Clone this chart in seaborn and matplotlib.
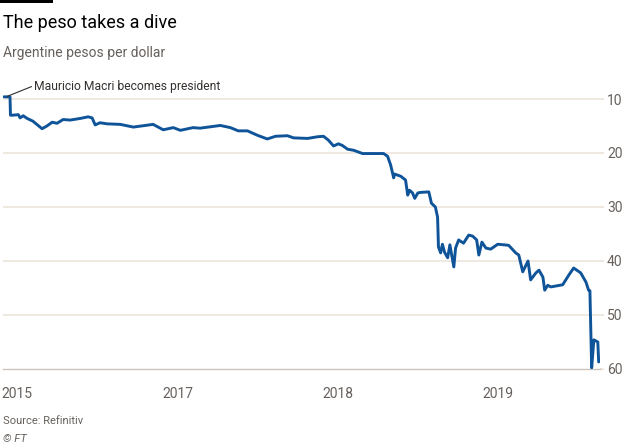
import matplotlib
matplotlib.use("Agg")
import matplotlib.pyplot as plt
import matplotlib.dates as mdates
import seaborn as sns
import pandas as pd

dates = [
    "2015-12-02", "2015-12-16", "2015-12-17", "2015-12-22", "2016-01-04", "2016-01-08",
    "2016-01-15", "2016-01-24", "2016-02-06", "2016-02-27", "2016-03-09", "2016-03-21",
    "2016-04-01", "2016-04-15", "2016-05-01", "2016-05-24", "2016-06-11", "2016-06-20",
    "2016-06-27", "2016-07-08", "2016-07-24", "2016-08-23", "2016-09-22", "2016-11-06",
    "2016-11-29", "2016-12-22", "2017-01-07", "2017-02-05", "2017-02-21", "2017-04-08",
    "2017-05-01", "2017-05-19", "2017-06-09", "2017-07-01", "2017-07-24", "2017-08-12",
    "2017-09-08", "2017-09-22", "2017-10-24", "2017-11-15", "2017-11-29", "2017-12-10",
    "2017-12-22", "2018-01-02", "2018-01-11", "2018-01-23", "2018-02-06", "2018-02-26",
    "2018-04-15", "2018-04-24", "2018-05-01", "2018-05-08", "2018-05-10", "2018-05-24",
    "2018-06-04", "2018-06-09", "2018-06-13", "2018-06-20", "2018-06-25", "2018-07-02",
    "2018-07-08", "2018-07-27", "2018-08-02", "2018-08-11", "2018-08-16", "2018-08-18",
    "2018-08-23", "2018-08-27", "2018-09-01", "2018-09-08", "2018-09-13", "2018-09-22",
    "2018-09-26", "2018-10-03", "2018-10-14", "2018-10-26", "2018-11-04", "2018-11-13",
    "2018-11-18", "2018-11-25", "2018-12-04", "2018-12-15", "2018-12-31", "2019-01-14",
    "2019-01-25", "2019-02-10", "2019-02-17", "2019-02-26", "2019-03-10", "2019-03-16",
    "2019-03-28", "2019-04-04", "2019-04-13", "2019-04-17", "2019-04-24", "2019-05-01",
    "2019-05-28", "2019-06-11", "2019-06-22", "2019-07-08", "2019-07-20", "2019-07-26",
    "2019-07-29", "2019-08-02", "2019-08-07", "2019-08-16", "2019-08-18",
]
pesos = [
    9.6, 9.6, 13.0, 13.0, 12.9, 13.5,
    13.1, 13.6, 14.1, 15.5, 15.0, 14.3,
    14.5, 13.8, 13.9, 13.6, 13.3, 13.5,
    14.8, 14.4, 14.6, 14.7, 15.2, 14.7,
    15.7, 15.3, 15.8, 15.3, 15.4, 14.9,
    15.3, 15.9, 15.9, 16.7, 17.4, 16.9,
    16.8, 17.2, 17.3, 17.0, 16.9, 17.6,
    18.7, 18.3, 18.6, 19.3, 19.5, 20.1,
    20.1, 20.6, 22.2, 24.6, 23.9, 24.3,
    25.0, 27.8, 26.9, 27.4, 28.4, 27.4,
    27.3, 27.2, 29.3, 30.0, 31.9, 37.4,
    38.5, 36.9, 38.4, 39.4, 37.0, 41.1,
    37.6, 36.1, 36.7, 35.2, 35.4, 36.1,
    38.9, 36.5, 37.6, 37.8, 36.9, 37.0,
    37.1, 38.5, 38.9, 42.0, 40.0, 43.5,
    42.2, 41.7, 43.0, 45.4, 44.5, 44.8,
    44.4, 42.6, 41.3, 42.2, 43.9, 45.4,
    45.5, 59.8, 54.6, 55.0, 58.7,
]
y_ticks = [10, 20, 30, 40, 50, 60]
x_tick_dates = ["2016-01-01", "2017-01-01", "2018-01-01", "2019-01-01"]
x_tick_labels = ["2015", "2017", "2018", "2019"]

title = "The peso takes a dive"
subtitle = "Argentine pesos per dollar"
note = "Mauricio Macri becomes president"
note_date = "2015-12-10"
source = "Source: Refinitiv"
credit = "© FT"

df = pd.DataFrame({"date": pd.to_datetime(dates), "pesos": pesos})

sns.set_theme(style="white")
plt.rcParams["font.family"] = ["Roboto", "DejaVu Sans"]

W, H = 625, 447
fig = plt.figure(figsize=(W / 100, H / 100), dpi=100)
fig.patch.set_facecolor("white")

left, right, top, bottom = 3, 600, 93.6, 369
ax = fig.add_axes([left / W, 1 - bottom / H, (right - left) / W, (bottom - top) / H])
ax.set_facecolor("white")

grid_c = "#ebe3da"
text_c = "#66605c"
tick_c = "#cdc4bb"

for v in y_ticks[:-1]:
    ax.axhline(v, color=grid_c, lw=1.1, zorder=0)

sns.lineplot(data=df, x="date", y="pesos", ax=ax, color="#0f5499", linewidth=2.1,
             zorder=3, estimator=None)

ax.set_ylim(60, 9.0)
ax.set_xlim(pd.Timestamp("2015-11-30"), pd.Timestamp("2019-08-21"))
ax.set_xlabel("")
ax.set_ylabel("")

for s in ["top", "left", "right"]:
    ax.spines[s].set_visible(False)
ax.spines["bottom"].set_color(tick_c)
ax.spines["bottom"].set_linewidth(1.0)

ax.yaxis.tick_right()
ax.set_yticks(y_ticks)
ax.set_yticklabels([str(v) for v in y_ticks])
ax.tick_params(axis="y", which="both", length=3, color=grid_c, pad=2,
               labelsize=10, labelcolor=text_c, right=True, left=False)

ax.set_xticks(pd.to_datetime(x_tick_dates))
ax.set_xticklabels(x_tick_labels)
ax.xaxis.set_minor_locator(mdates.MonthLocator())
ax.tick_params(axis="x", which="major", length=8, width=1, color=tick_c, pad=5,
               labelsize=10, labelcolor=text_c)
ax.tick_params(axis="x", which="minor", length=5, width=1, color=tick_c)

# annotation: leader line + text
ax.plot([pd.Timestamp(note_date), pd.Timestamp("2016-02-03")], [9.5, 7.7],
        color="#33302e", lw=0.8, clip_on=False, zorder=4)
ax.text(pd.Timestamp("2016-02-08"), 7.6, note, fontsize=8.7, color="#33302e",
        va="center", ha="left", clip_on=False)

# header / footer
fig.add_artist(plt.Rectangle((0, 1 - 3 / H), 53 / W, 3 / H, transform=fig.transFigure,
                             color="black", lw=0))
fig.text(3 / W, 1 - 28 / H, title, fontsize=13, color="#000000", va="baseline", ha="left")
fig.text(3 / W, 1 - 57 / H, subtitle, fontsize=10, color=text_c, va="baseline", ha="left")
fig.text(3 / W, 1 - 424 / H, source, fontsize=8, color=text_c, va="baseline", ha="left")
fig.text(3 / W, 1 - 442 / H, credit, fontsize=8, color=text_c, va="baseline", ha="left",
         style="italic")

fig.savefig("out.png", dpi=100, facecolor="white")
